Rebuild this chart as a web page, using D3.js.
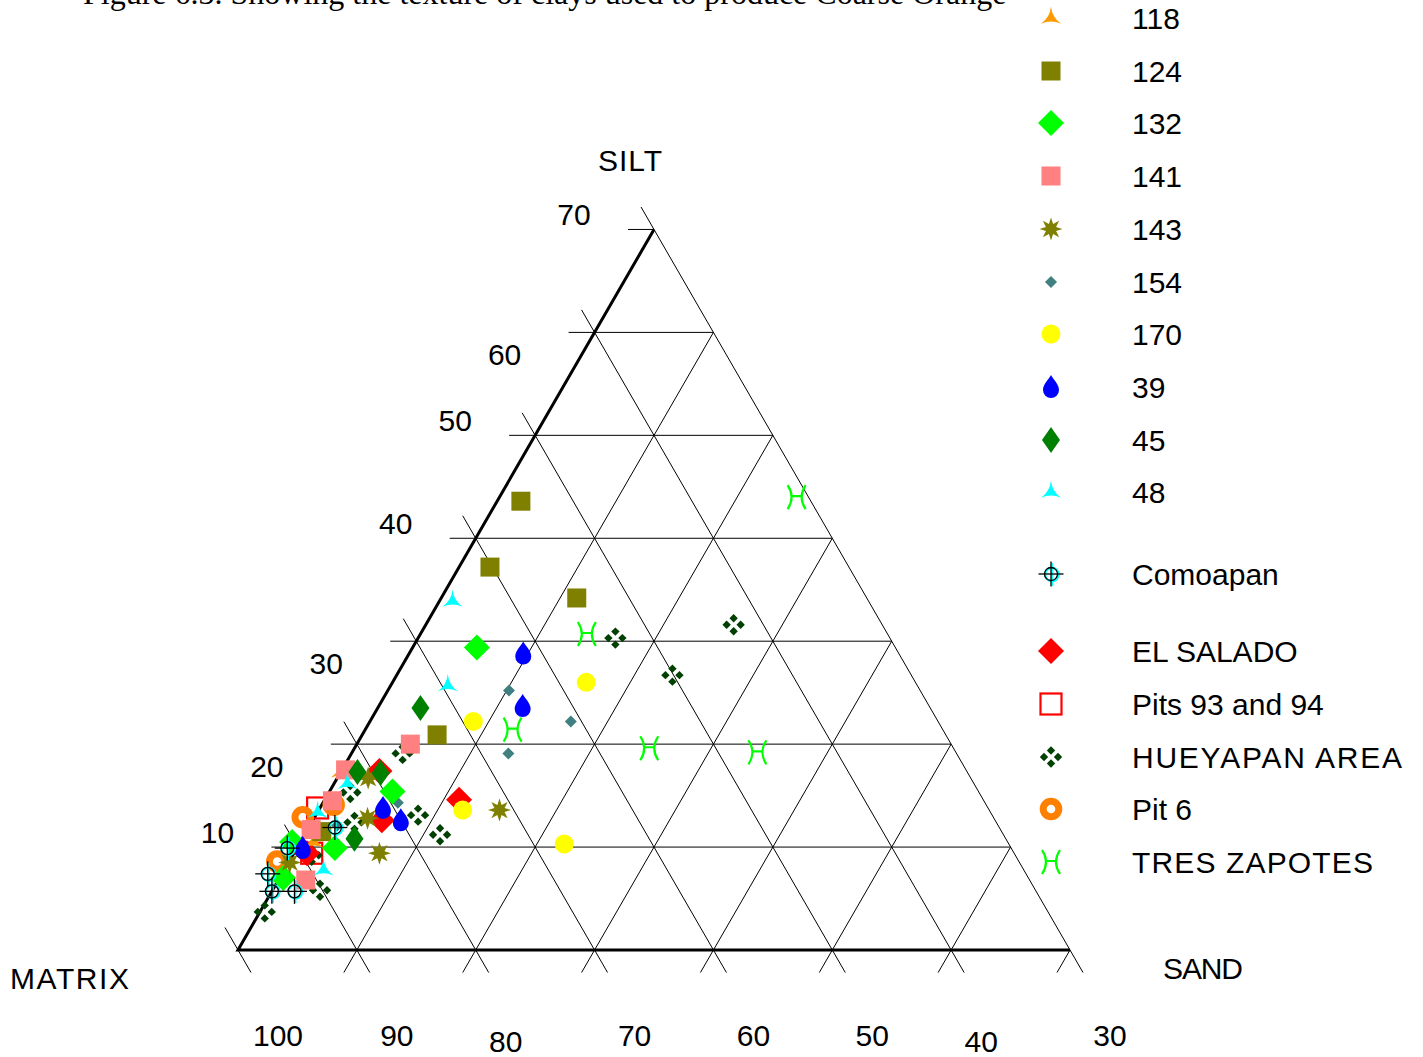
<!DOCTYPE html>
<html><head><meta charset="utf-8">
<script src="https://cdn.jsdelivr.net/npm/d3@7"></script>
<style>
body{margin:0;background:#fff}
svg{display:block}
text{font-family:"Liberation Sans",Arial,sans-serif;fill:#000}
</style>
</head><body>
<svg id="chart" width="1423" height="1057"></svg>
<script>
// ---------------- DATA ([matrix, silt, sand]) ----------------
const siltTicks   = [10, 20, 30, 40, 50, 60, 70];
const matrixTicks = [100, 90, 80, 70, 60, 50, 40, 30];
const axisTitles  = ["SILT", "MATRIX", "SAND"];
const captionText = "Figure 6.3. Showing the texture of clays used to produce Coarse Orange";

const s118 = [[82.7,17.3,0.0],[88.4,10.5,1.1]];
const s124 = [[54.4,43.6,2.0],[60.2,37.2,2.6],[54.4,34.2,11.4],[72.8,20.9,6.3],[87.2,11.5,1.3]];
const s132 = [[65.2,29.4,5.4],[79.3,15.4,5.3],[86.9,9.9,3.2],[90.2,10.5,-0.7],[92.7,7.0,0.3]];
const s141 = [[75.5,20.0,4.5],[82.2,17.5,0.3],[84.8,14.5,0.7],[88.0,11.7,0.3],[90.9,6.8,2.3]];
const s143 = [[71.2,13.6,15.2],[83.4,9.4,7.2],[82.7,12.8,4.5],[80.7,16.7,2.6],[91.4,8.5,0.1]];
const s154 = [[64.6,25.2,10.2],[60.9,22.2,16.9],[67.7,19.1,13.2],[79.4,14.3,6.3],[85.6,12.1,2.3]];
const s170 = [[57.7,26.0,16.3],[69.1,22.2,8.7],[74.3,13.6,12.1],[67.4,10.3,22.3]];
const s39  = [[61.6,28.8,9.6],[64.2,23.7,12.1],[80.9,13.8,5.3],[80.0,12.6,7.4],[89.6,9.9,0.5]];
const s45  = [[72.9,23.5,3.6],[79.4,17.2,3.4],[84.8,10.8,4.4],[81.3,17.3,1.4]];
const s48  = [[65.0,33.9,1.1],[69.5,25.7,4.8],[82.7,16.2,1.1],[86.6,13.4,0.0],[88.9,7.8,3.3]];
const sComoapan = [[85.9,11.9,2.2],[90.9,9.9,-0.8],[93.8,7.4,-1.2],[94.3,5.7,0.0],[92.4,5.7,1.9]];
const sElSalado = [[74.1,14.6,11.3],[79.4,17.4,3.2],[81.6,12.6,5.8],[89.5,9.4,1.1]];
const sPits9394 = [[86.4,13.8,-0.2],[89.1,9.4,1.5]];
const sHueyapan = [[42.5,31.6,25.9],[50.1,26.7,23.2],[53.1,30.3,16.6],[77.4,11.2,11.4],[78.3,13.1,8.6],
                   [76.6,19.1,4.3],[82.9,15.3,1.8],[84.0,12.4,3.6],[90.2,5.8,4.0],[95.9,3.7,0.4],[89.2,9.2,1.6]];
const sPit6     = [[88.1,12.9,-1.0],[84.9,14.1,1.0],[92.4,8.6,-1.0]];
const sTresZap  = [[31.0,44.0,25.0],[55.3,30.7,14.0],[66.2,21.4,12.4],[55.6,19.6,24.8],[46.7,19.2,34.1]];

const legendNames = ["118","124","132","141","143","154","170","39","45","48",
                     "Comoapan","EL SALADO","Pits 93 and 94","HUEYAPAN AREA","Pit 6","TRES ZAPOTES"];

// ---------------- STYLE / LAYOUT ----------------
const styles = {
  "118":{sym:"tri",color:"#FF9900"},
  "124":{sym:"square",color:"#808000"},
  "132":{sym:"diamond",color:"#00FF00"},
  "141":{sym:"square",color:"#FF8080"},
  "143":{sym:"star8",color:"#808000"},
  "154":{sym:"smallDiamond",color:"#408080"},
  "170":{sym:"circle",color:"#FFFF00"},
  "39":{sym:"drop",color:"#0000FF"},
  "45":{sym:"tallDiamond",color:"#008000"},
  "48":{sym:"tri",color:"#00FFFF"},
  "Comoapan":{sym:"crosshair",color:"#000000"},
  "EL SALADO":{sym:"diamond",color:"#FF0000"},
  "Pits 93 and 94":{sym:"hollowSquare",color:"#FF0000"},
  "HUEYAPAN AREA":{sym:"quad",color:"#004000"},
  "Pit 6":{sym:"ring",color:"#FF8000"},
  "TRES ZAPOTES":{sym:"pisces",color:"#00FF00"}
};
const seriesData = {
  "118":s118,"124":s124,"132":s132,"141":s141,"143":s143,"154":s154,"170":s170,
  "39":s39,"45":s45,"48":s48,"Comoapan":sComoapan,"EL SALADO":sElSalado,
  "Pits 93 and 94":sPits9394,"HUEYAPAN AREA":sHueyapan,"Pit 6":sPit6,"TRES ZAPOTES":sTresZap
};
const drawOrder = ["Pits 93 and 94","HUEYAPAN AREA","Pit 6","EL SALADO","118","124","154","132","141",
                   "143","170","39","45","48","Comoapan","TRES ZAPOTES"];
const legendTextWidth = {"HUEYAPAN AREA": 270, "TRES ZAPOTES": 241};

const svg = d3.select("#chart");
const X0 = 238, X1 = 1070, Y0 = 950;
const span = 70;                        // silt/sand range shown (matrix 100 -> 30)
const unit = (X1 - X0) / span;
const xS = d3.scaleLinear().domain([0, span]).range([X0, X1]);
const yS = d3.scaleLinear().domain([0, span]).range([Y0, Y0 - span * unit * Math.sqrt(3) / 2]);
const proj = d => [xS(d[2] + d[1] / 2), yS(d[1])];
const T = 26;   // tick extension length
const c60 = 0.5, s60 = Math.sqrt(3) / 2;

// caption (cut off at the top edge, as in the source figure)
svg.append("text").attr("x", 83).attr("y", 4)
  .style("font-family", '"Liberation Serif","Times New Roman",serif').style("font-size", "32px")
  .text(captionText);

const grid = svg.append("g").attr("stroke", "#000").attr("stroke-width", 1).attr("fill", "none");
function seg(a, b) { grid.append("line").attr("x1", a[0]).attr("y1", a[1]).attr("x2", b[0]).attr("y2", b[1]); }

// constant silt (horizontal) lines
siltTicks.forEach(k => {
  const a = proj([100 - k, k, 0]), b = proj([100 - span, k, span - k]);
  seg([a[0] - T, a[1]], b);
});
// constant sand lines (parallel to left edge), extended below base
d3.range(10, span + 1, 10).forEach(s => {
  const a = proj([100 - s, 0, s]), b = proj([100 - span, span - s, s]);
  seg([a[0] - T * c60, a[1] + T * s60], b);
});
// constant matrix lines (parallel to right edge), extended both ends
matrixTicks.forEach(m => {
  const a = proj([m, 0, 100 - m]), b = proj([m, 100 - m, 0]);
  seg([a[0] + T * c60, a[1] + T * s60], [b[0] - T * c60, b[1] - T * s60]);
});
// thick edges
const v0 = proj([100, 0, 0]), vTop = proj([100 - span, span, 0]), vR = proj([100 - span, 0, span]);
svg.append("path").attr("d", `M${vTop[0]},${vTop[1]}L${v0[0]},${v0[1]}L${vR[0]},${vR[1]}`)
  .attr("fill", "none").attr("stroke", "#000").attr("stroke-width", 3).attr("stroke-linejoin", "miter");

// tick labels
const fs = "30px";
matrixTicks.forEach(m => {
  const p = proj([m, 0, 100 - m]);
  const low = (m === 80 || m === 40);
  svg.append("text").attr("x", p[0] + (low ? 30 : 40)).attr("y", p[1] + (low ? 102 : 96))
    .attr("text-anchor", "middle").style("font-size", fs).text(m);
});
siltTicks.forEach(k => {
  const p = proj([100 - k, k, 0]);
  const shifted = (k === 20 || k === 30 || k === 60);
  svg.append("text").attr("x", p[0] + (shifted ? -90 : -80)).attr("y", p[1] + (shifted ? 33 : -4.5))
    .attr("text-anchor", "middle").style("font-size", fs).text(k);
});
svg.append("text").attr("x", 630).attr("y", 171).attr("text-anchor", "middle").style("font-size", fs)
  .attr("textLength", 64).text(axisTitles[0]);
svg.append("text").attr("x", 10).attr("y", 989).style("font-size", fs).attr("textLength", 119).text(axisTitles[1]);
svg.append("text").attr("x", 1163).attr("y", 979).style("font-size", fs).attr("textLength", 80).text(axisTitles[2]);

// ---------------- SYMBOLS ----------------
function starPath(n, R, r) {
  let d = "";
  for (let i = 0; i < 2 * n; i++) {
    const ang = -Math.PI / 2 + i * Math.PI / n, rr = i % 2 ? r : R;
    d += (i ? "L" : "M") + (rr * Math.cos(ang)).toFixed(2) + "," + (rr * Math.sin(ang)).toFixed(2);
  }
  return d + "Z";
}
function triPath(R, r) {
  let d = "";
  for (let i = 0; i < 3; i++) {
    const a = -Math.PI / 2 + i * 2 * Math.PI / 3, b = a + Math.PI / 3, c = a + 2 * Math.PI / 3;
    if (!i) d += `M${R * Math.cos(a)},${R * Math.sin(a)}`;
    d += `Q${r * Math.cos(b)},${r * Math.sin(b)} ${R * Math.cos(c)},${R * Math.sin(c)}`;
  }
  return d + "Z";
}
function drawSymbol(g, sym, color) {
  switch (sym) {
    case "tri": g.append("path").attr("d", triPath(11.5, 1.2)).attr("fill", color); break;
    case "square": g.append("rect").attr("x", -9.5).attr("y", -9.5).attr("width", 19).attr("height", 19).attr("fill", color); break;
    case "diamond": g.append("path").attr("d", "M0,-13L13,0L0,13L-13,0Z").attr("fill", color); break;
    case "tallDiamond": g.append("path").attr("d", "M0,-13L9,0L0,13L-9,0Z").attr("fill", color); break;
    case "smallDiamond": g.append("path").attr("d", "M0,-6L6,0L0,6L-6,0Z").attr("fill", color); break;
    case "star8": g.append("path").attr("d", starPath(8, 11.5, 5.5)).attr("fill", color); break;
    case "circle": g.append("circle").attr("r", 9.5).attr("fill", color); break;
    case "drop": g.append("path").attr("d", "M0,-12C2,-8 8,-3 8,3A8,8 0 1 1 -8,3C-8,-3 -2,-8 0,-12Z").attr("fill", color); break;
    case "hollowSquare": g.append("rect").attr("x", -10.5).attr("y", -10.5).attr("width", 21).attr("height", 21)
        .attr("fill", "none").attr("stroke", color).attr("stroke-width", 2.2); break;
    case "quad":
      [[0,-6.5],[-7,0],[7,0],[0,6.5]].forEach(o => g.append("path")
        .attr("d", `M${o[0]},${o[1]-4.2}L${o[0]+4.2},${o[1]}L${o[0]},${o[1]+4.2}L${o[0]-4.2},${o[1]}Z`).attr("fill", color));
      break;
    case "ring": g.append("circle").attr("r", 7.8).attr("fill", "none").attr("stroke", color).attr("stroke-width", 7); break;
    case "crosshair":
      g.append("circle").attr("cx", 1).attr("cy", 0.5).attr("r", 6.8).attr("fill", "none").attr("stroke", "#00FFFF").attr("stroke-width", 2);
      g.append("line").attr("x1", 1.2).attr("x2", 1.2).attr("y1", -11).attr("y2", 12).attr("stroke", "#00FFFF").attr("stroke-width", 1.5);
      g.append("circle").attr("r", 6.5).attr("fill", "none").attr("stroke", "#000").attr("stroke-width", 1.3);
      g.append("line").attr("x1", -12.5).attr("x2", 12.5).attr("y1", 0).attr("y2", 0).attr("stroke", "#000").attr("stroke-width", 1.3);
      g.append("line").attr("x1", 0).attr("x2", 0).attr("y1", -12.5).attr("y2", 12.5).attr("stroke", "#000").attr("stroke-width", 1.3);
      break;
    case "pisces":
      g.append("path").attr("d", "M-9,-12Q-1,0 -9,12M9,-12Q1,0 9,12M-6,-1L6,-1")
        .attr("fill", "none").attr("stroke", color).attr("stroke-width", 2.2);
      break;
  }
}

// ---------------- POINTS ----------------
const pts = svg.append("g");
drawOrder.forEach(name => {
  const st = styles[name];
  pts.selectAll(null).data(seriesData[name]).join("g")
    .attr("transform", d => `translate(${proj(d)[0]},${proj(d)[1]})`)
    .each(function() { drawSymbol(d3.select(this), st.sym, st.color); });
});

// ---------------- LEGEND ----------------
const legendY = [18, 71, 123, 176, 229, 282, 334, 387, 440, 492, 574, 651, 704, 757, 809, 862];
const lg = svg.append("g");
legendNames.forEach((name, i) => {
  const g = lg.append("g").attr("transform", `translate(1051,${legendY[i]})`);
  drawSymbol(g, styles[name].sym, styles[name].color);
  const t = lg.append("text").attr("x", 1132).attr("y", legendY[i] + 10.5).style("font-size", fs).text(name);
  if (legendTextWidth[name]) t.attr("textLength", legendTextWidth[name]);
});
</script>
</body></html>
